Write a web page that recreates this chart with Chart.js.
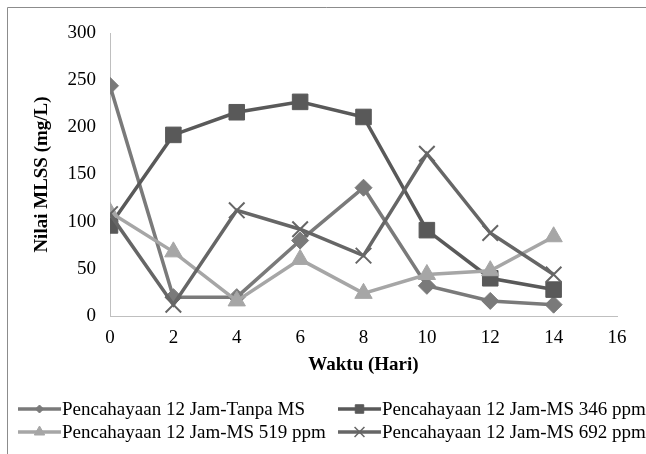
<!DOCTYPE html>
<html>
<head>
<meta charset="utf-8">
<script src="https://cdn.jsdelivr.net/npm/chart.js@4.4.1/dist/chart.umd.min.js"></script>
<style>
html,body{margin:0;padding:0;background:#fff;}
#wrap{position:relative;width:646px;height:454px;}
</style>
</head>
<body>
<div id="wrap"><canvas id="c" width="646" height="454"></canvas></div>
<script>
const days = [0, 2, 4, 6, 8, 10, 12, 14];
const tanpaMS = [244, 20, 20, 80, 136, 32, 16, 12];
const ms346 = [96, 192, 216, 227, 211, 91, 40, 28];
const ms519 = [110, 68, 16, 60, 24, 44, 48, 84];
const ms692 = [108, 12, 112, 92, 64, 172, 88, 44];
const seriesNames = [
  'Pencahayaan 12 Jam-Tanpa MS',
  'Pencahayaan 12 Jam-MS 346 ppm',
  'Pencahayaan 12 Jam-MS 519 ppm',
  'Pencahayaan 12 Jam-MS 692 ppm'
];
const xTitle = 'Waktu (Hari)';
const yTitle = 'Nilai MLSS (mg/L)';

const FONT = "'Liberation Serif', 'Times New Roman', serif";
const FS = 19;
const toPts = vals => days.map((d, i) => ({x: d, y: vals[i]}));

const styles = [
  {color: '#7a7a7a', pointStyle: 'rectRot', r: 8.5, lr: 4},
  {color: '#595959', pointStyle: 'rect', r: 11, lr: 6},
  {color: '#a6a6a6', pointStyle: 'triangle', r: 10, lr: 6},
  {color: '#666666', pointStyle: 'crossRot', r: 11, lr: 7}
];
const allVals = [tanpaMS, ms346, ms519, ms692];

const datasets = allVals.map((v, i) => ({
  label: seriesNames[i],
  data: toPts(v),
  borderColor: styles[i].color,
  backgroundColor: styles[i].color,
  pointBackgroundColor: styles[i].color,
  pointBorderColor: styles[i].color,
  borderWidth: 3.5,
  pointStyle: styles[i].pointStyle,
  pointRadius: styles[i].r,
  pointHoverRadius: styles[i].r,
  pointBorderWidth: i === 3 ? 2 : 1,
  tension: 0,
  order: 4 - i
}));

const frame = {
  id: 'frame',
  beforeDraw(chart) {
    const ctx = chart.ctx;
    ctx.save();
    ctx.fillStyle = '#fff';
    ctx.fillRect(0, 0, chart.width, chart.height);
    ctx.strokeStyle = '#8c8c8c';
    ctx.lineWidth = 1;
    ctx.beginPath();
    ctx.moveTo(7.5, chart.height);
    ctx.lineTo(7.5, 7.5);
    ctx.lineTo(chart.width, 7.5);
    ctx.stroke();
    ctx.restore();
  }
};

const legendPlugin = {
  id: 'customLegend',
  afterDraw(chart) {
    const ctx = chart.ctx;
    const pos = [
      {x: 18, y: 409}, {x: 338, y: 409},
      {x: 18, y: 432}, {x: 338, y: 432}
    ];
    ctx.save();
    chart.data.datasets.forEach((ds, i) => {
      const p = pos[i];
      const s = styles[i];
      ctx.strokeStyle = s.color;
      ctx.lineWidth = 3.5;
      ctx.beginPath();
      ctx.moveTo(p.x, p.y);
      ctx.lineTo(p.x + 43, p.y);
      ctx.stroke();
      ctx.fillStyle = s.color;
      ctx.lineWidth = i === 3 ? 1.5 : 1;
      Chart.helpers.drawPoint(ctx, {pointStyle: s.pointStyle, radius: s.lr, rotation: 0, borderWidth: ctx.lineWidth}, p.x + 21.5, p.y);
      ctx.fillStyle = '#000';
      ctx.font = FS + 'px ' + FONT;
      ctx.textBaseline = 'middle';
      ctx.textAlign = 'left';
      ctx.fillText(ds.label, p.x + 44, p.y + 1);
    });
    ctx.restore();
  }
};

function build() {
  new Chart(document.getElementById('c'), {
    type: 'line',
    data: {datasets},
    options: {
      responsive: false,
      animation: false,
      events: [],
      layout: {padding: {top: 33, right: 29, left: 0, bottom: 0}},
      plugins: {legend: {display: false}, tooltip: {enabled: false}},
      scales: {
        x: {
          type: 'linear',
          min: 0, max: 16,
          grid: {display: false, drawTicks: false},
          border: {display: true, color: '#bfbfbf', width: 1},
          ticks: {stepSize: 2, color: '#000', padding: 11, font: {family: FONT, size: FS}},
          title: {display: true, text: xTitle, color: '#000', font: {family: FONT, size: FS, weight: 'bold'}, padding: {top: 0, bottom: 78}},
          afterFit(scale) { scale.height = 138; }
        },
        y: {
          min: 0, max: 300,
          grid: {display: false, drawTicks: false},
          border: {display: true, color: '#bfbfbf', width: 1},
          ticks: {stepSize: 50, color: '#000', padding: 14, font: {family: FONT, size: FS}},
          title: {display: true, text: yTitle, color: '#000', font: {family: FONT, size: FS, weight: 'bold'}, padding: {top: 31, bottom: 0}},
          afterFit(scale) { scale.width = 110; }
        }
      }
    },
    plugins: [frame, legendPlugin]
  });
}

Promise.all([
  document.fonts.load(FS + 'px "Liberation Serif"'),
  document.fonts.load('bold ' + FS + 'px "Liberation Serif"')
]).then(build, build);
</script>
</body>
</html>
